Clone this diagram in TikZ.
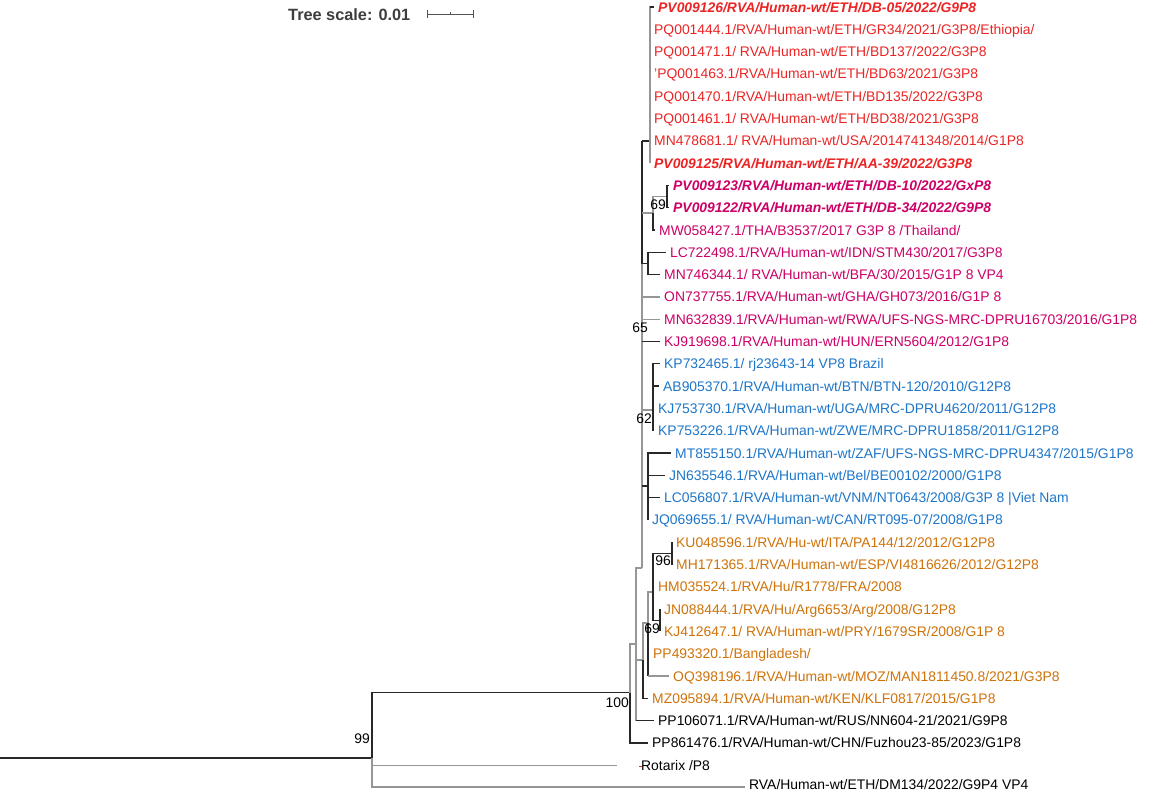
\documentclass[tikz,border=0pt]{standalone}
\usepackage{fontspec}
\usetikzlibrary{calc}
\setmainfont{Liberation Sans}
\definecolor{cred}{RGB}{236,36,36}
\definecolor{cmag}{RGB}{204,0,102}
\definecolor{cblue}{RGB}{30,118,200}
\definecolor{corg}{RGB}{206,114,10}
\definecolor{cgray}{RGB}{150,150,150}
\definecolor{cdark}{RGB}{40,40,40}
\begin{document}
\begin{tikzpicture}[x=1pt,y=-1pt,
  bb/.style={draw=cdark,line width=1.3pt},
  gb/.style={draw=cgray,line width=1.3pt},
  lf/.style={anchor=base west,inner sep=0pt,yshift=-5pt,xshift=4pt,font=\fontsize{13.9}{16}\selectfont},
  bi/.style={lf,font=\fontsize{13.9}{16}\selectfont\bfseries\itshape},
  bs/.style={anchor=base east,inner sep=0pt,font=\fontsize{13.9}{16}\selectfont}]
\useasboundingbox (0,0) rectangle (1170,793);
% ---------- scale ----------
\node[anchor=base west,inner sep=0pt,text=cdark!90,font=\fontsize{16.3}{18}\selectfont\bfseries] (ts) at (288,20) {Tree scale: 0.01};
\coordinate (sa) at (427,14);
\coordinate (sb) at (473,14);
\coordinate (sm) at ($(sa)!0.5!(sb)$);
\draw[cdark!80,line width=1pt] (sa) -- (sb);
\draw[cdark!80,line width=1pt] ([yshift=4pt]sa) -- ([yshift=-4pt]sa);
\draw[cdark!80,line width=1pt] ([yshift=4pt]sb) -- ([yshift=-4pt]sb);
\draw[cdark!80,line width=0.8pt] (sm) -- ([yshift=2pt]sm);
% ---------- internal nodes ----------
\coordinate (root) at (0,758);
\coordinate (n99) at (372,758);
\coordinate (n100) at (630,692.5);
\coordinate (nB) at (636,644);
\coordinate (nJ) at (642,568);
\coordinate (nR) at (650,141);
\coordinate (nD) at (667,196.6);
\coordinate (nE) at (653,213);
\coordinate (nG) at (648,263.5);
\coordinate (nH) at (653,410);
\coordinate (nI) at (648,486);
\coordinate (n96) at (672,553.3);
\coordinate (n69b) at (660,620.3);
\coordinate (nA) at (653,592);
\coordinate (nOb) at (648,623);
\coordinate (nOc) at (643,660);
% ---------- tips ----------
\coordinate (t1) at (654,7);
\coordinate (t2) at (650,29.3);
\coordinate (t3) at (650,51.6);
\coordinate (t4) at (650,73.9);
\coordinate (t5) at (650,96.2);
\coordinate (t6) at (650,118.5);
\coordinate (t7) at (650,140.8);
\coordinate (t8) at (650,163.1);
\coordinate (t9) at (669,185.4);
\coordinate (t10) at (669,207.7);
\coordinate (t11) at (655,230);
\coordinate (t12) at (666,252.3);
\coordinate (t13) at (660,274.6);
\coordinate (t14) at (660,296.9);
\coordinate (t15) at (660,319.2);
\coordinate (t16) at (660,341.5);
\coordinate (t17) at (660,363.8);
\coordinate (t18) at (659,386.1);
\coordinate (t19) at (654,408.4);
\coordinate (t20) at (654,430.7);
\coordinate (t21) at (671,453);
\coordinate (t22) at (665,475.3);
\coordinate (t23) at (660,497.6);
\coordinate (t24) at (648,519.9);
\coordinate (t25) at (672,542.2);
\coordinate (t26) at (672,564.5);
\coordinate (t27) at (654,586.8);
\coordinate (t28) at (660,609.1);
\coordinate (t29) at (660,631.4);
\coordinate (t30) at (649,653.7);
\coordinate (t31) at (669,676);
\coordinate (t32) at (648,698.3);
\coordinate (t33) at (654,720.6);
\coordinate (t34) at (648,742.9);
\coordinate (t35) at (617,765.2);
\coordinate (t36) at (745,787);
% ---------- branches ----------
\draw[bb] (root) -- (n99);
\draw[gb] (n99) |- (t36);
\draw[gb] (n99) |- (t35);
\draw[bb] (n99) |- (n100);
\draw[gb] (n100) |- (nB);
\draw[bb] (n100) |- (t34);
\draw[gb] (nB) |- (nJ);
\draw[gb] (nB) |- (t33);
\draw[bb] (nB|-t33) -- (t33);
% backbone
\draw[gb] (nJ) -- (nJ|-nG);
\draw[bb] (nJ|-nG) -- (nJ|-nR);
\draw[bb] (nJ|-nR) -- (nR);
\draw[gb] (nJ|-nE) -- (nE);
\draw[bb] (nJ|-nG) -- (nG);
\draw[gb] (nJ|-t14) -- (t14);
\draw[gb] (nJ|-t15) -- (t15);
\draw[bb] (nJ|-t16) -- (t16);
\draw[gb] (nJ|-nH) -- (nH);
\draw[bb] (nJ|-nI) -- (nI);
% red clade
\draw[gb] (nR) |- (t1);
\draw[bb] (nR|-t1) -- (t1);
\draw[gb] (nR) |- (t8);
% magenta
\draw[gb] (nE) |- (nD);
\draw[bb] (nE) |- (t11);
\draw[bb] (nD) |- (t9);
\draw[bb] (nD) |- (t10);
\draw[bb] (nG) |- (t12);
\draw[bb] (nG) |- (t13);
% blue
\draw[bb] (nH) |- (t17);
\draw[bb] (nH) |- (t18);
\draw[bb] (nH) |- (t19);
\draw[bb] (nH) |- (t20);
\draw[bb] (nI) |- (t21);
\draw[bb] (nI) |- (t22);
\draw[bb] (nI) |- (t23);
\draw[bb] (nI) |- (t24);
% orange
\draw[gb] (nB|-nOc) -- (nOc);
\draw[gb] (nOc) |- (nOb);
\draw[bb] (nOc) |- (t32);
\draw[gb] (nOb) |- (nA);
\draw[bb] (nOb) |- (t30);
\draw[bb] (nOb) |- (nOb|-t31);
\draw[gb] (nOb|-t31) -- (t31);
\draw[bb] (nA) |- (n96);
\draw[bb] (nA) |- (t27);
\draw[bb] (nA) |- (n69b);
\draw[bb] (n96) |- (t25);
\draw[bb] (n96) |- (t26);
\draw[bb] (n69b) |- (t28);
\draw[bb] (n69b) |- (t29);
% ---------- bootstrap ----------
\node[bs] (b99) at (370,743) {99};
\node[bs] (b100) at (629,707) {100};
\node[bs] (b65) at (648,332) {65};
\node[bs] (b62) at (652,423) {62};
\node[bs] (b69a) at (666,209) {69};
\node[bs] (b96) at (671,565) {96};
\node[bs] (b69b) at (660,633) {69};
% ---------- labels ----------
\node[bi,text=cred] (L1) at (t1) {PV009126/RVA/Human-wt/ETH/DB-05/2022/G9P8};
\node[lf,text=cred] (L2) at (t2) {PQ001444.1/RVA/Human-wt/ETH/GR34/2021/G3P8/Ethiopia/};
\node[lf,text=cred] (L3) at (t3) {PQ001471.1/ RVA/Human-wt/ETH/BD137/2022/G3P8};
\node[lf,text=cred] (L4) at (t4) {'PQ001463.1/RVA/Human-wt/ETH/BD63/2021/G3P8};
\node[lf,text=cred] (L5) at (t5) {PQ001470.1/RVA/Human-wt/ETH/BD135/2022/G3P8};
\node[lf,text=cred] (L6) at (t6) {PQ001461.1/ RVA/Human-wt/ETH/BD38/2021/G3P8};
\node[lf,text=cred] (L7) at (t7) {MN478681.1/ RVA/Human-wt/USA/2014741348/2014/G1P8};
\node[bi,text=cred] (L8) at (t8) {PV009125/RVA/Human-wt/ETH/AA-39/2022/G3P8};
\node[bi,text=cmag] (L9) at (t9) {PV009123/RVA/Human-wt/ETH/DB-10/2022/GxP8};
\node[bi,text=cmag] (L10) at (t10) {PV009122/RVA/Human-wt/ETH/DB-34/2022/G9P8};
\node[lf,text=cmag] (L11) at (t11) {MW058427.1/THA/B3537/2017 G3P 8 /Thailand/};
\node[lf,text=cmag] (L12) at (t12) {LC722498.1/RVA/Human-wt/IDN/STM430/2017/G3P8};
\node[lf,text=cmag] (L13) at (t13) {MN746344.1/ RVA/Human-wt/BFA/30/2015/G1P 8 VP4};
\node[lf,text=cmag] (L14) at (t14) {ON737755.1/RVA/Human-wt/GHA/GH073/2016/G1P 8};
\node[lf,text=cmag] (L15) at (t15) {MN632839.1/RVA/Human-wt/RWA/UFS-NGS-MRC-DPRU16703/2016/G1P8};
\node[lf,text=cmag] (L16) at (t16) {KJ919698.1/RVA/Human-wt/HUN/ERN5604/2012/G1P8};
\node[lf,text=cblue] (L17) at (t17) {KP732465.1/ rj23643-14 VP8 Brazil};
\node[lf,text=cblue] (L18) at (t18) {AB905370.1/RVA/Human-wt/BTN/BTN-120/2010/G12P8};
\node[lf,text=cblue] (L19) at (t19) {KJ753730.1/RVA/Human-wt/UGA/MRC-DPRU4620/2011/G12P8};
\node[lf,text=cblue] (L20) at (t20) {KP753226.1/RVA/Human-wt/ZWE/MRC-DPRU1858/2011/G12P8};
\node[lf,text=cblue] (L21) at (t21) {MT855150.1/RVA/Human-wt/ZAF/UFS-NGS-MRC-DPRU4347/2015/G1P8};
\node[lf,text=cblue] (L22) at (t22) {JN635546.1/RVA/Human-wt/Bel/BE00102/2000/G1P8};
\node[lf,text=cblue] (L23) at (t23) {LC056807.1/RVA/Human-wt/VNM/NT0643/2008/G3P 8 |Viet Nam};
\node[lf,text=cblue] (L24) at (t24) {JQ069655.1/ RVA/Human-wt/CAN/RT095-07/2008/G1P8};
\node[lf,text=corg] (L25) at (t25) {KU048596.1/RVA/Hu-wt/ITA/PA144/12/2012/G12P8};
\node[lf,text=corg] (L26) at (t26) {MH171365.1/RVA/Human-wt/ESP/VI4816626/2012/G12P8};
\node[lf,text=corg] (L27) at (t27) {HM035524.1/RVA/Hu/R1778/FRA/2008};
\node[lf,text=corg] (L28) at (t28) {JN088444.1/RVA/Hu/Arg6653/Arg/2008/G12P8};
\node[lf,text=corg] (L29) at (t29) {KJ412647.1/ RVA/Human-wt/PRY/1679SR/2008/G1P 8};
\node[lf,text=corg] (L30) at (t30) {PP493320.1/Bangladesh/};
\node[lf,text=corg] (L31) at (t31) {OQ398196.1/RVA/Human-wt/MOZ/MAN1811450.8/2021/G3P8};
\node[lf,text=corg] (L32) at (t32) {MZ095894.1/RVA/Human-wt/KEN/KLF0817/2015/G1P8};
\node[lf,text=black] (L33) at (t33) {PP106071.1/RVA/Human-wt/RUS/NN604-21/2021/G9P8};
\node[lf,text=black] (L34) at (t34) {PP861476.1/RVA/Human-wt/CHN/Fuzhou23-85/2023/G1P8};
\node[lf,text=black,xshift=20pt] (L35) at (t35) {Rotarix /P8};
\node[lf,text=black,yshift=2.5pt] (L36) at (t36) {RVA/Human-wt/ETH/DM134/2022/G9P4 VP4};
\draw[cred,line width=1.2pt] ([xshift=-2pt,yshift=-1pt]L35.west) -- ([xshift=0.5pt,yshift=-1pt]L35.west);
\end{tikzpicture}
\end{document}
